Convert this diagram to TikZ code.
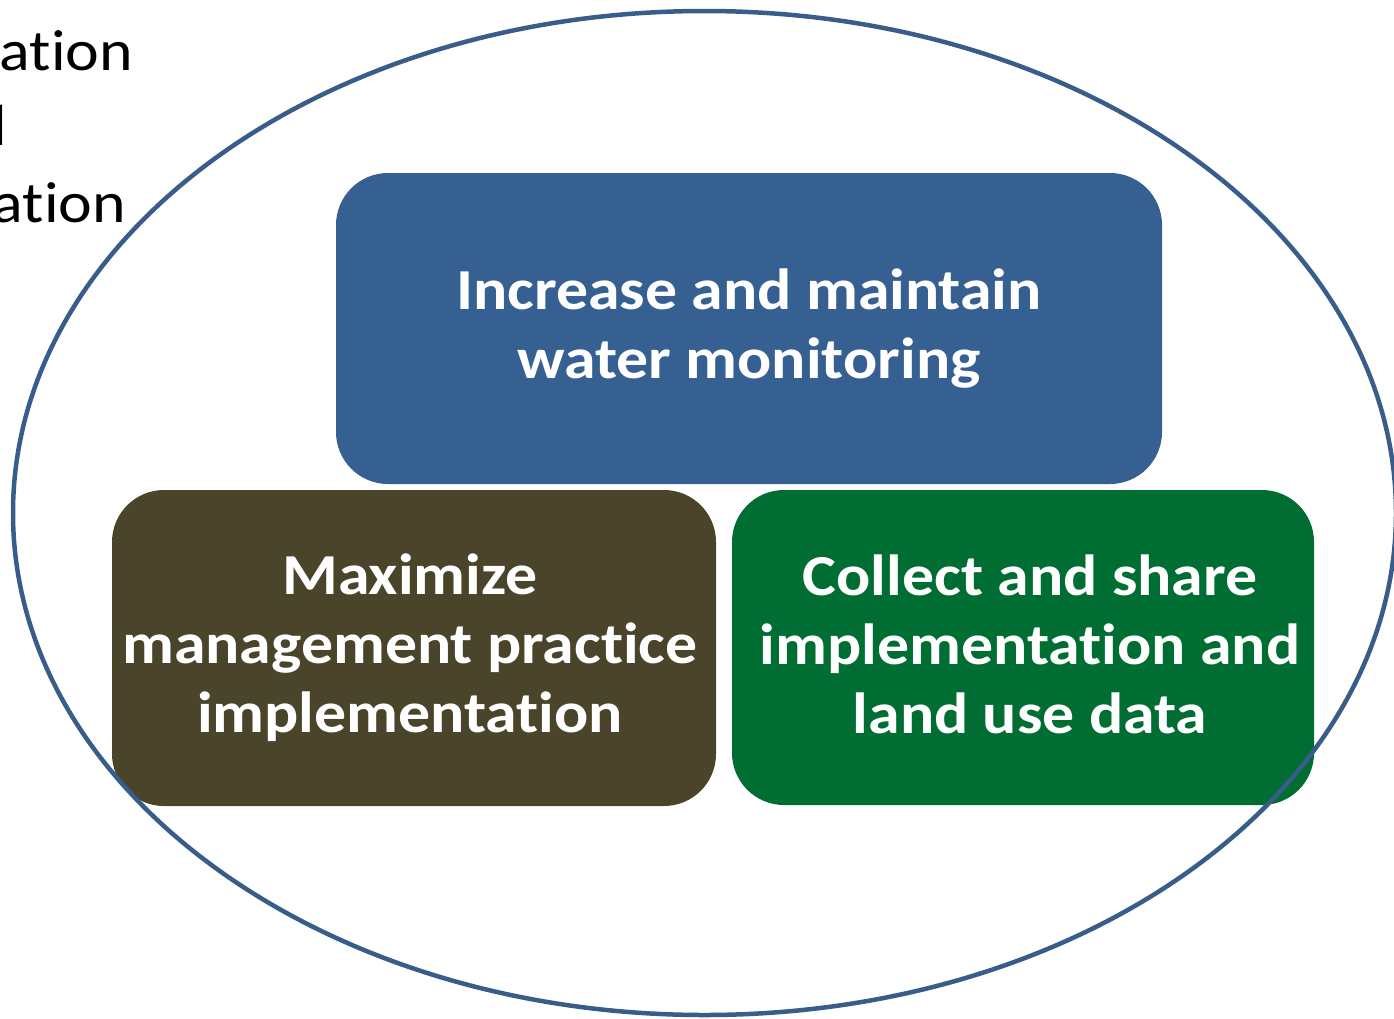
\documentclass[tikz,border=0pt]{standalone}
\usepackage{fontspec}
\setmainfont[Ligatures=NoCommon,FakeStretch=1.1]{Carlito}
\definecolor{boxblue}{HTML}{376092}
\definecolor{boxbrown}{HTML}{4A452A}
\definecolor{boxgreen}{HTML}{006E33}
\definecolor{ringblue}{HTML}{385D8A}
\begin{document}
\begin{tikzpicture}[x=1pt,y=-1pt,
  goalbox/.style={rectangle, rounded corners=52pt, inner sep=0pt},
  goaltext/.style={inner sep=0pt, text=white, align=center,
    font=\fontsize{58}{69}\selectfont\bfseries},
  sidetext/.style={anchor=base east, inner sep=0pt, text=black,
    font=\fontsize{58}{69}\selectfont}]
\useasboundingbox (0,0) rectangle (1394,1018);
\clip (0,0) rectangle (1394,1018);
\node[sidetext] (t1) at (133,70) {ation};
\node[sidetext] (t2) at (7.5,145) {l};
\node[sidetext] (t3) at (126,222) {ation};
\node[goalbox, fill=boxblue, minimum width=826pt, minimum height=311pt] (blue) at (749,328.5) {};
\node[goalbox, fill=boxbrown, minimum width=604pt, minimum height=316pt] (brown) at (414,648) {};
\node[goalbox, fill=boxgreen, minimum width=582pt, minimum height=315pt] (green) at (1023,647.5) {};
\node[goaltext] (bluetext) at (749,328.5) {Increase and maintain\\water monitoring};
\node[goaltext] (browntext) at (410,648) {Maximize\\management practice\\implementation};
\node[goaltext] (greentext) at (1030,644.5) {Collect and share\\implementation and\\land use data};
\draw[ringblue, line width=4.5pt] (704.5,513) ellipse [x radius=691.5, y radius=502];
\end{tikzpicture}
\end{document}
